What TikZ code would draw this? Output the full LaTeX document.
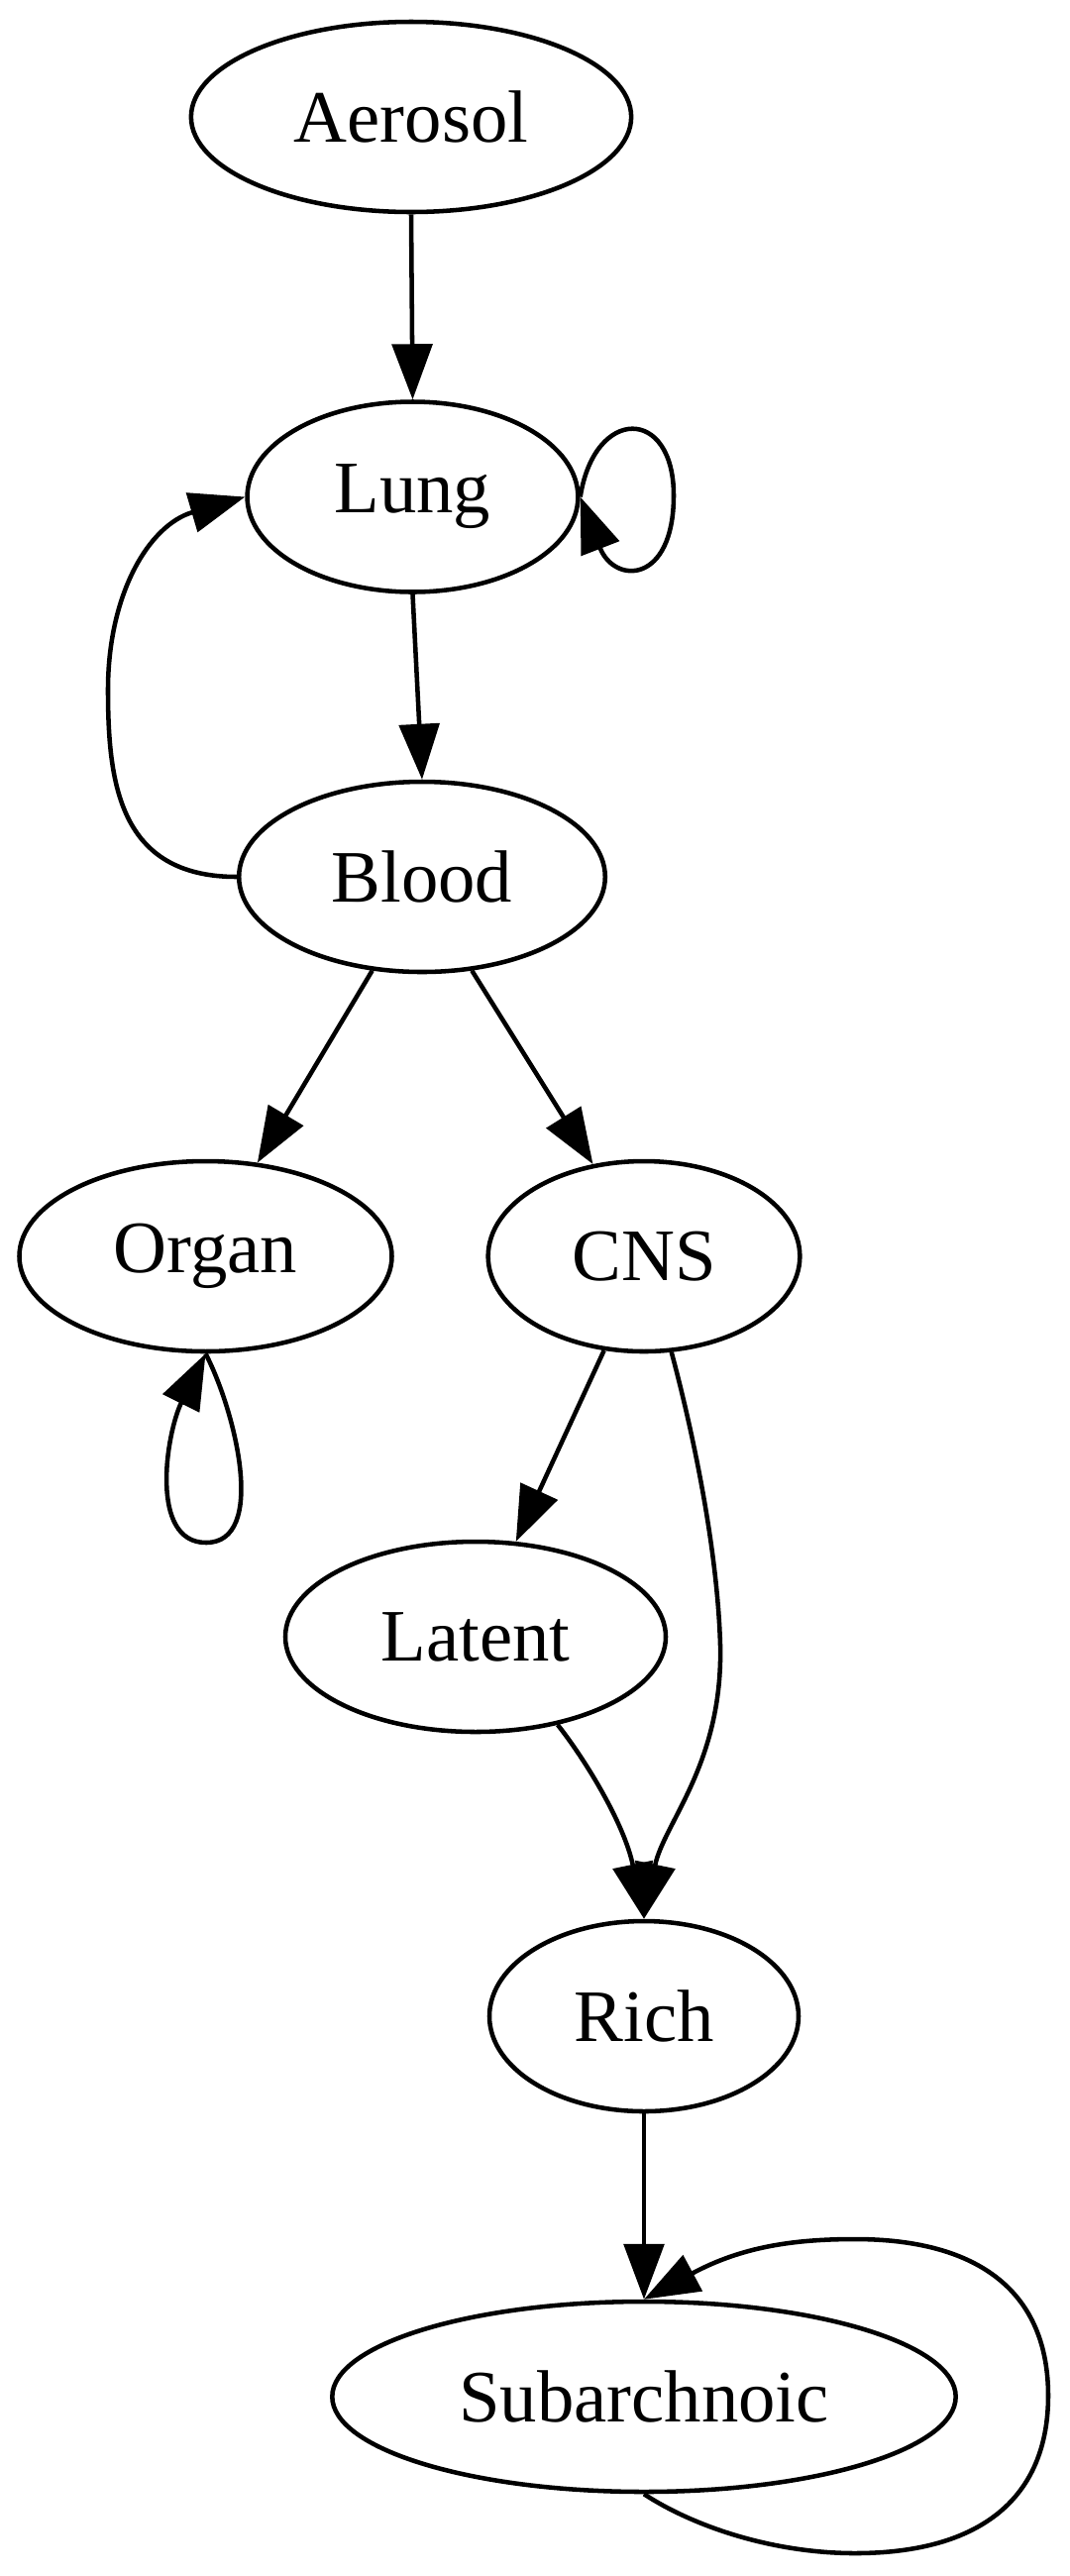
\documentclass[tikz,border=0pt]{standalone}
\usepackage{fontspec}
\setmainfont{Liberation Serif}
\usetikzlibrary{shapes,arrows.meta,positioning,calc}

\begin{document}
\begin{tikzpicture}[x=0.1875pt, y=-0.1875pt,
    state/.style={draw, ellipse, line width=0.85pt, inner sep=0pt, minimum height=36pt, font=\fontsize{14pt}{16pt}\selectfont},
    link/.style={line width=0.85pt, -{Triangle[length=10.5pt, width=7.6pt]}}]
    \useasboundingbox (0,0) rectangle (1080,2600);

    % Compartments, one rank per row
    \node [state, minimum width=83.3pt] (aerosol) at (415,118) {Aerosol};
    \node [state, minimum width=62.6pt] (lung) at (416.5,501.5) {Lung};
    \node [state, minimum width=69.3pt] (blood) at (426,885) {Blood};
    \node [state, minimum width=70.5pt] (organ) at (207.5,1268) {Organ};
    \node [state, minimum width=59pt] (cns) at (650,1268) {CNS};
    \node [state, minimum width=72pt] (latent) at (480,1652) {Latent};
    \node [state, minimum width=58.5pt] (rich) at (650,2035) {Rich};
    \node [state, minimum width=118pt] (sub) at (650,2419) {Subarchnoic};

    % Flows down the ranks
    \draw [link] (aerosol.south) -- (lung.north);
    \draw [link] (lung.south) -- (blood.north);
    \draw [link] (blood.242) -- (organ.61);
    \draw [link] (blood.298) -- (cns.119.5);
    \draw [link] (cns.247) -- (latent.67.5);
    \draw [link] (cns.-74) .. controls (698,1440) and (724,1560) .. (727,1660)
        .. controls (730,1780) and (670,1840) .. (rich.north);
    \draw [link] (latent.-47) .. controls (590,1775) and (630,1840) .. (rich.north);
    \draw [link] (rich.south) -- (sub.north);

    % Back edge
    \draw [link] (blood.west) .. controls (120,885) and (109,790) .. (109,696)
        .. controls (109,600) and (150,530) .. (lung.west);

    % Self loops
    \draw [link] (lung.east) .. controls (600,410) and (680,410) .. (680,500)
        .. controls (680,590) and (620,590) .. (lung.east);
    \draw [link] (organ.south) .. controls (238,1425) and (270,1557) .. (208,1557)
        .. controls (150,1557) and (168,1446) .. (organ.south);
    \draw [link] (sub.south) .. controls (700,2550) and (780,2577) .. (863,2577)
        .. controls (990,2577) and (1058,2521) .. (1058,2418)
        .. controls (1058,2315) and (990,2260) .. (863,2260)
        .. controls (800,2260) and (748,2268) .. (sub.north);
\end{tikzpicture}
\end{document}
